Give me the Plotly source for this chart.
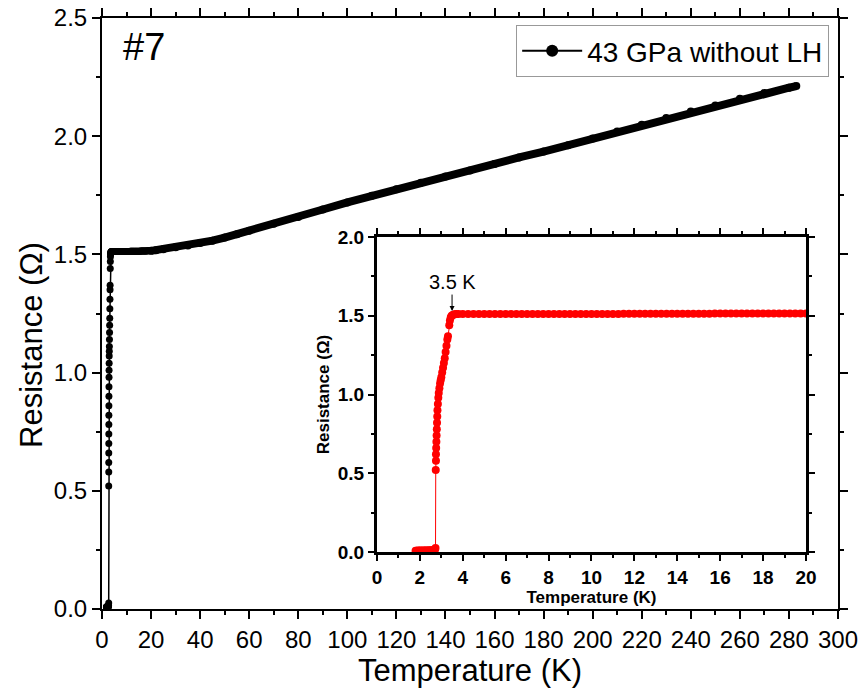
import plotly.graph_objects as go

# Superconducting (zero-resistance) region
T_zero = [1.80, 1.85, 1.90, 1.95, 2.00, 2.05, 2.10, 2.15, 2.20, 2.25, 2.30, 2.35,
          2.40, 2.45, 2.50, 2.55, 2.60, 2.65, 2.70]
R_zero = [0.008, 0.008, 0.009, 0.008, 0.009, 0.009, 0.008, 0.009, 0.010, 0.009,
          0.010, 0.010, 0.010, 0.011, 0.010, 0.011, 0.012, 0.012, 0.014]

# Transition
T_trans = [2.73, 2.74, 2.75, 2.75, 2.76, 2.77, 2.78, 2.79, 2.80, 2.81, 2.82, 2.84,
           2.86, 2.88, 2.91, 2.94, 2.97, 3.00, 3.04, 3.08, 3.12, 3.16, 3.20, 3.24,
           3.28, 3.31, 3.37, 3.40, 3.44, 3.48, 3.53, 3.58, 3.64, 3.70]
R_trans = [0.025, 0.52, 0.58, 0.62, 0.66, 0.70, 0.74, 0.78, 0.82, 0.86, 0.90, 0.94,
           0.98, 1.01, 1.04, 1.07, 1.09, 1.11, 1.14, 1.17, 1.20, 1.23, 1.27, 1.31,
           1.35, 1.37, 1.44, 1.47, 1.49, 1.50, 1.505, 1.508, 1.510, 1.511]

# Normal state below 20 K
T_norm = [3.80, 4.00, 4.25, 4.50, 4.75, 5.00, 5.25, 5.50, 5.75, 6.00, 6.25, 6.50,
          6.75, 7.00, 7.25, 7.50, 7.75, 8.00, 8.25, 8.50, 8.75, 9.00, 9.25, 9.50,
          9.75, 10.00, 10.25, 10.50, 10.75, 11.00, 11.25, 11.50, 11.75, 12.00,
          12.25, 12.50, 12.75, 13.00, 13.25, 13.50, 13.75, 14.00, 14.25, 14.50,
          14.75, 15.00, 15.25, 15.50, 15.75, 16.00, 16.25, 16.50, 16.75, 17.00,
          17.25, 17.50, 17.75, 18.00, 18.25, 18.50, 18.75, 19.00, 19.25, 19.50,
          19.75, 20.00]
R_norm = [1.512, 1.512, 1.512, 1.512, 1.512, 1.512, 1.512, 1.512, 1.512, 1.512,
          1.512, 1.512, 1.512, 1.512, 1.512, 1.512, 1.512, 1.512, 1.512, 1.512,
          1.512, 1.512, 1.512, 1.512, 1.512, 1.512, 1.512, 1.512, 1.512, 1.512,
          1.512, 1.513, 1.513, 1.513, 1.513, 1.513, 1.513, 1.513, 1.513, 1.513,
          1.513, 1.513, 1.513, 1.513, 1.513, 1.513, 1.513, 1.513, 1.514, 1.514,
          1.514, 1.514, 1.514, 1.514, 1.514, 1.514, 1.514, 1.514, 1.514, 1.515,
          1.515, 1.515, 1.515, 1.515, 1.515, 1.515]

# Normal state up to room temperature
T_high = [20, 22, 25, 30, 35, 40, 45, 50, 55, 60, 70, 80, 90, 100, 110, 120, 130,
          140, 150, 160, 170, 180, 190, 200, 210, 220, 230, 240, 250, 260, 270,
          280, 283]
R_high = [1.515, 1.518, 1.522, 1.530, 1.538, 1.548, 1.558, 1.571, 1.585, 1.600,
          1.630, 1.658, 1.690, 1.720, 1.748, 1.776, 1.803, 1.830, 1.855, 1.882,
          1.910, 1.935, 1.962, 1.990, 2.020, 2.048, 2.077, 2.105, 2.130, 2.158,
          2.183, 2.205, 2.212]

T_low = T_zero + T_trans + T_norm
R_low = R_zero + R_trans + R_norm

FONT = "Liberation Sans, Arial, sans-serif"

fig = go.Figure()

# Main panel
fig.add_trace(go.Scatter(
    x=T_high, y=R_high, mode="lines+markers", showlegend=False,
    line=dict(color="black", width=8), marker=dict(color="black", size=8),
    xaxis="x", yaxis="y"))
fig.add_trace(go.Scatter(
    x=T_low, y=R_low, mode="lines+markers", showlegend=False,
    line=dict(color="black", width=1.5), marker=dict(color="black", size=7),
    xaxis="x", yaxis="y"))
# Legend entry (symbol only)
fig.add_trace(go.Scatter(
    x=[None], y=[None], mode="lines+markers", name="43 GPa without LH",
    line=dict(color="black", width=2), marker=dict(color="black", size=12),
    xaxis="x", yaxis="y"))

# Inset: low-temperature detail
fig.add_trace(go.Scatter(
    x=T_low, y=R_low, mode="lines+markers", showlegend=False,
    line=dict(color="red", width=1), marker=dict(color="red", size=8),
    xaxis="x2", yaxis="y2"))

main_axis = dict(
    showline=True, linecolor="black", linewidth=2, mirror="ticks",
    ticks="outside", ticklen=8, tickwidth=1.5, tickcolor="black",
    showgrid=False, zeroline=False, automargin=False,
    tickfont=dict(family=FONT, size=24, color="black"),
)
inset_axis = dict(
    showline=True, linecolor="black", linewidth=3, mirror="ticks",
    ticks="outside", ticklen=6, tickwidth=2, tickcolor="black",
    showgrid=False, zeroline=False, automargin=False,
    tickfont=dict(family=FONT, size=19, color="black", weight="bold"),
)

fig.update_layout(
    width=861, height=695,
    margin=dict(l=102, r=23, t=18, b=86),
    paper_bgcolor="white", plot_bgcolor="white",
    xaxis=dict(main_axis, range=[0, 300], tick0=0, dtick=20,
               minor=dict(dtick=10, ticklen=4, tickwidth=1.5, ticks="outside",
                          tickcolor="black"),
               domain=[0, 1],
               title=dict(text="Temperature (K)",
                          font=dict(family=FONT, size=31, color="black"),
                          standoff=4)),
    yaxis=dict(main_axis, range=[0, 2.5], tick0=0, dtick=0.5, tickformat=".1f",
               minor=dict(dtick=0.25, ticklen=4, tickwidth=1.5, ticks="outside",
                          tickcolor="black"),
               domain=[0, 1]),
    xaxis2=dict(inset_axis, range=[0, 20], tick0=0, dtick=2, anchor="y2",
                minor=dict(dtick=1, ticklen=3, tickwidth=2, ticks="outside",
                           tickcolor="black"),
                domain=[0.3736, 0.9565],
                title=dict(text="Temperature (K)",
                           font=dict(family=FONT, size=17, color="black",
                                     weight="bold"),
                           standoff=0)),
    yaxis2=dict(inset_axis, range=[0, 2], tick0=0, dtick=0.5, tickformat=".1f",
                anchor="x2",
                minor=dict(dtick=0.25, ticklen=3, tickwidth=2, ticks="outside",
                           tickcolor="black"),
                domain=[0.0964, 0.6294],
                title=dict(text="Resistance (Ω)",
                           font=dict(family=FONT, size=17, color="black",
                                     weight="bold"),
                           standoff=4)),
    legend=dict(x=0.988, y=0.988, xanchor="right", yanchor="top",
                bordercolor="#999999", borderwidth=1, bgcolor="white",
                itemwidth=60,
                font=dict(family=FONT, size=28, color="black")),
    annotations=[
        dict(text="Resistance (Ω)", xref="paper", yref="paper",
             x=-0.095, y=0.447, xanchor="center", yanchor="middle",
             textangle=-90, showarrow=False,
             font=dict(family=FONT, size=31, color="black")),
        dict(text="#7", xref="paper", yref="paper", x=0.026, y=0.99,
             xanchor="left", yanchor="top", showarrow=False,
             font=dict(family=FONT, size=38, color="black")),
        dict(text="3.5 K", xref="x2", yref="y2", x=3.5, y=1.53,
             ax=0, ay=-29, showarrow=True, arrowhead=2, arrowsize=1,
             arrowwidth=1, arrowcolor="black",
             font=dict(family=FONT, size=20, color="black")),
    ],
)

fig.write_html("out.html")
